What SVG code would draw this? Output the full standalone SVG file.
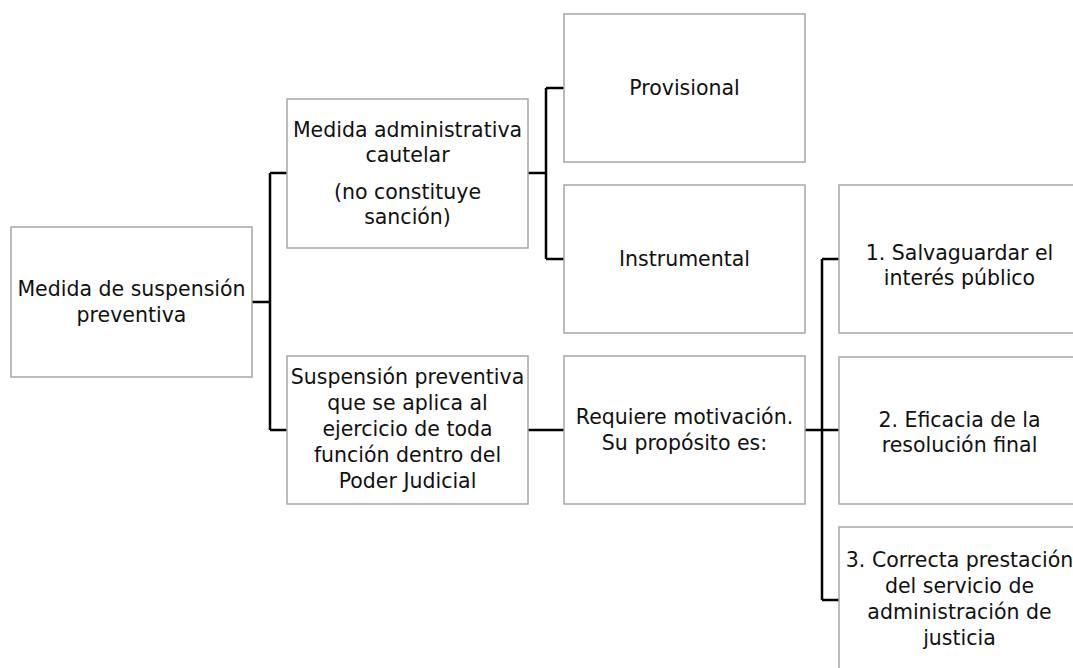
<svg xmlns="http://www.w3.org/2000/svg" width="1073" height="668" viewBox="0 0 1073 668">
<style>
.box{fill:#fff;stroke:#a6a6a6;stroke-width:1.5}
.t{font-family:"DejaVu Sans","Open Sans",sans-serif;font-size:20.5px;fill:#111;text-anchor:middle}
.c{fill:none;stroke:#000;stroke-width:2.5}
</style>
<rect width="1073" height="668" fill="#fff"/>
<g id="connectors">
<path class="c" d="M252,302 H270 M270,173 V430 M270,173 H287 M270,430 H287"/>
<path class="c" d="M528,173 H546 M546,88 V259 M546,88 H564 M546,259 H564"/>
<path class="c" d="M528,430 H564"/>
<path class="c" d="M805,430 H839 M822,259 V600 M822,259 H839 M822,600 H839"/>
</g>
<g id="n-root"><rect class="box" x="11" y="227" width="241" height="150"/>
<text class="t" x="131.5" y="296">Medida de suspensión</text>
<text class="t" x="131.5" y="322">preventiva</text></g>
<g id="n-adm"><rect class="box" x="287" y="99" width="241" height="149"/>
<text class="t" x="407.5" y="137">Medida administrativa</text>
<text class="t" x="407.5" y="162">cautelar</text>
<text class="t" x="407.5" y="199">(no constituye</text>
<text class="t" x="407.5" y="224">sanción)</text></g>
<g id="n-prov"><rect class="box" x="564" y="14" width="241" height="148"/>
<text class="t" x="684.5" y="95">Provisional</text></g>
<g id="n-inst"><rect class="box" x="564" y="185" width="241" height="148"/>
<text class="t" x="684.5" y="266">Instrumental</text></g>
<g id="n-susp"><rect class="box" x="287" y="356" width="241" height="148"/>
<text class="t" x="407.5" y="384">Suspensión preventiva</text>
<text class="t" x="407.5" y="410">que se aplica al</text>
<text class="t" x="407.5" y="436">ejercicio de toda</text>
<text class="t" x="407.5" y="462">función dentro del</text>
<text class="t" x="407.5" y="488">Poder Judicial</text></g>
<g id="n-req"><rect class="box" x="564" y="356" width="241" height="148"/>
<text class="t" x="684.5" y="424">Requiere motivación.</text>
<text class="t" x="684.5" y="450">Su propósito es:</text></g>
<g id="n-1"><rect class="box" x="839" y="185" width="241" height="148"/>
<text class="t" x="959.5" y="260">1. Salvaguardar el</text>
<text class="t" x="959.5" y="285">interés público</text></g>
<g id="n-2"><rect class="box" x="839" y="357" width="241" height="147"/>
<text class="t" x="959.5" y="427">2. Eficacia de la</text>
<text class="t" x="959.5" y="452">resolución final</text></g>
<g id="n-3"><rect class="box" x="839" y="527" width="241" height="148"/>
<text class="t" x="959.5" y="567">3. Correcta prestación</text>
<text class="t" x="959.5" y="593">del servicio de</text>
<text class="t" x="959.5" y="619">administración de</text>
<text class="t" x="959.5" y="645">justicia</text></g>
</svg>
